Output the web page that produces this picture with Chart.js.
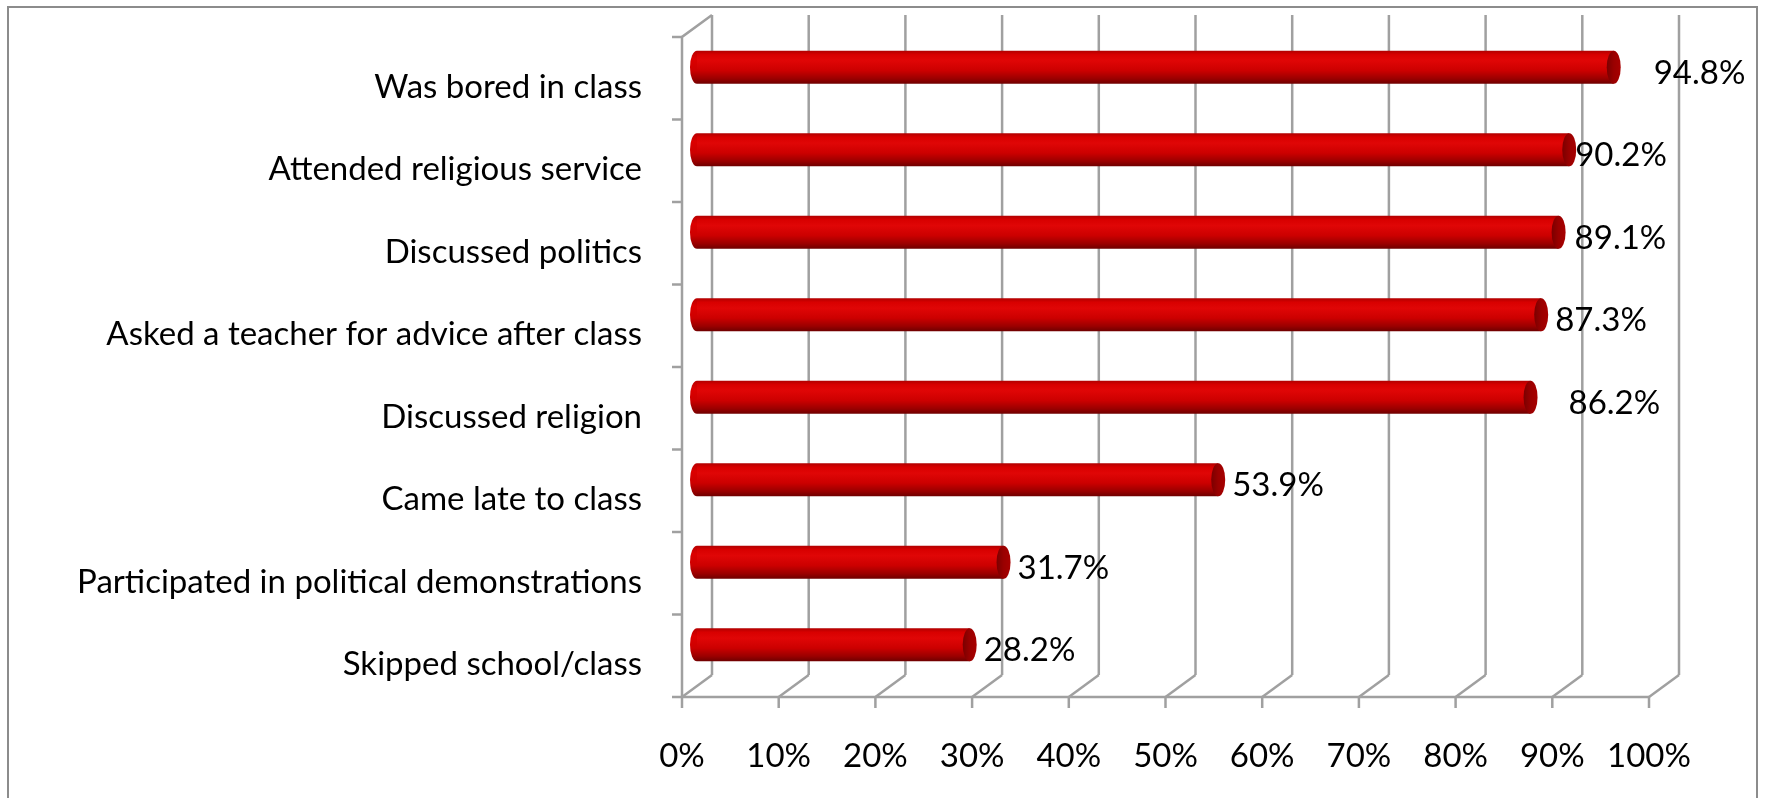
<!DOCTYPE html>
<html>
<head>
<meta charset="utf-8">
<script src="https://cdn.jsdelivr.net/npm/chart.js@4.4.1/dist/chart.umd.min.js"></script>
<style>
  html, body { margin: 0; padding: 0; background: #fff; }
  #wrap { width: 1765px; height: 798px; position: relative; }
</style>
</head>
<body>
<div id="wrap"><canvas id="chart"></canvas></div>
<script>
// datos del grafico
const categorias = [
    "Was bored in class",
    "Attended religious service",
    "Discussed politics",
    "Asked a teacher for advice after class",
    "Discussed religion",
    "Came late to class",
    "Participated in political demonstrations",
    "Skipped school/class"
];
const valores = [94.8, 90.2, 89.1, 87.3, 86.2, 53.9, 31.7, 28.2];
const etiquetas = ["94.8%", "90.2%", "89.1%", "87.3%", "86.2%", "53.9%", "31.7%", "28.2%"];
const ticksX = [0, 10, 20, 30, 40, 50, 60, 70, 80, 90, 100];

// ajuste manual de las etiquetas (como en el original de Excel)
const empujeEtiqueta = [28, -6, 4, 2, 26, 2, 2, 2];

// profundidad 3D
const PROF_X = 30, PROF_Y = -22;
const GRIS = '#a0a0a0';
const FUENTE = "Lato, 'Open Sans', sans-serif";
const TAM = 33;

// ==========================================
// Marco 3D: paredes, piso, ejes
// ==========================================
const marco3D = {
    id: 'marco3D',
    beforeDraw(chart) {
        const ctx = chart.ctx;
        const a = chart.chartArea;
        const x = chart.scales.x;
        const y = chart.scales.y;
        ctx.save();
        ctx.fillStyle = '#fff';
        ctx.fillRect(0, 0, chart.width, chart.height);

        // borde exterior
        ctx.strokeStyle = '#8c8c8c';
        ctx.lineWidth = 2;
        ctx.strokeRect(8, 7, chart.width - 16, chart.height + 20);

        ctx.strokeStyle = GRIS;
        ctx.lineWidth = 2.5;
        ctx.lineCap = 'butt';

        ticksX.forEach(v => {
            const px = x.getPixelForValue(v);
            // linea de fondo
            ctx.beginPath();
            ctx.moveTo(px + PROF_X, a.bottom + PROF_Y);
            ctx.lineTo(px + PROF_X, a.top + PROF_Y);
            ctx.stroke();
            // piso
            ctx.beginPath();
            ctx.moveTo(px, a.bottom);
            ctx.lineTo(px + PROF_X, a.bottom + PROF_Y);
            ctx.stroke();
            // marca del eje
            ctx.beginPath();
            ctx.moveTo(px, a.bottom);
            ctx.lineTo(px, a.bottom + 11);
            ctx.stroke();
        });

        // eje inferior
        ctx.beginPath();
        ctx.moveTo(a.left - 10, a.bottom);
        ctx.lineTo(x.getPixelForValue(100), a.bottom);
        ctx.stroke();

        // pared izquierda
        ctx.beginPath();
        ctx.moveTo(a.left, a.bottom);
        ctx.lineTo(a.left, a.top);
        ctx.lineTo(a.left + PROF_X, a.top + PROF_Y);
        ctx.stroke();

        // marcas del eje vertical (limites de categoria)
        const paso = y.getPixelForValue(1) - y.getPixelForValue(0);
        for (let i = 0; i < categorias.length; i++) {
            const py = y.getPixelForValue(i) - paso / 2;
            ctx.beginPath();
            ctx.moveTo(a.left - 10, py);
            ctx.lineTo(a.left, py);
            ctx.stroke();
        }
        ctx.restore();
    },
    beforeDatasetsDraw(chart) {
        chart.ctx.save();
        chart.ctx.translate(PROF_X / 2, PROF_Y / 2);
    },
    afterDatasetsDraw(chart) {
        const ctx = chart.ctx;
        const meta = chart.getDatasetMeta(0);
        meta.data.forEach(bar => {
            const h = bar.height;
            const top = bar.y - h / 2;
            const rx = 7;
            // tapa izquierda
            const gIzq = ctx.createLinearGradient(0, top, 0, top + h);
            gIzq.addColorStop(0, '#b80000');
            gIzq.addColorStop(0.25, '#dc0000');
            gIzq.addColorStop(0.6, '#cc0000');
            gIzq.addColorStop(1, '#7a0000');
            ctx.fillStyle = gIzq;
            ctx.beginPath();
            ctx.ellipse(bar.base, bar.y, rx, h / 2, 0, Math.PI / 2, Math.PI * 1.5);
            ctx.fill();
            // tapa derecha
            const gDer = ctx.createLinearGradient(bar.x - rx, 0, bar.x + rx, 0);
            gDer.addColorStop(0, '#7a0000');
            gDer.addColorStop(0.5, '#9a0000');
            gDer.addColorStop(1, '#a80000');
            ctx.fillStyle = gDer;
            ctx.beginPath();
            ctx.ellipse(bar.x, bar.y, rx, h / 2, 0, 0, Math.PI * 2);
            ctx.fill();
        });
        ctx.restore();

        // etiquetas de datos
        ctx.save();
        ctx.font = `${TAM}px ${FUENTE}`;
        ctx.fillStyle = '#000';
        ctx.textAlign = 'left';
        ctx.textBaseline = 'middle';
        meta.data.forEach((bar, i) => {
            const lx = bar.x + PROF_X / 2 + 12 + empujeEtiqueta[i];
            const ly = bar.y + PROF_Y / 2 + 6;
            ctx.fillText(etiquetas[i], lx, ly);
        });
        ctx.restore();
    }
};

function gradienteBarra(context) {
    const chart = context.chart;
    const y = chart.scales.y;
    if (!chart.chartArea || !y || context.dataIndex === undefined) return '#d00000';
    const centro = y.getPixelForValue(context.dataIndex);
    const paso = Math.abs(y.getPixelForValue(1) - y.getPixelForValue(0));
    const h = paso * 0.4;
    const top = centro - h / 2;
    if (!Number.isFinite(top) || !Number.isFinite(h)) return '#d00000';
    const g = chart.ctx.createLinearGradient(0, top, 0, top + h);
    g.addColorStop(0, '#b00000');
    g.addColorStop(0.12, '#d80000');
    g.addColorStop(0.3, '#e00606');
    g.addColorStop(0.6, '#cc0000');
    g.addColorStop(0.85, '#9a0000');
    g.addColorStop(1, '#6e0000');
    return g;
}

const ctx = document.getElementById('chart').getContext('2d');
new Chart(ctx, {
    type: 'bar',
    data: {
        labels: categorias,
        datasets: [{
            data: valores,
            backgroundColor: gradienteBarra,
            borderWidth: 0,
            barPercentage: 0.4,
            categoryPercentage: 1
        }]
    },
    options: {
        indexAxis: 'y',
        responsive: true,
        maintainAspectRatio: false,
        animation: false,
        layout: { padding: { top: 37, right: 116, left: 0, bottom: 0 } },
        plugins: { legend: { display: false }, tooltip: { enabled: false } },
        scales: {
            x: {
                min: 0,
                max: 100,
                afterFit: s => { s.height = 101; s.paddingLeft = 0; s.paddingRight = 0; },
                afterBuildTicks: s => { s.ticks = ticksX.map(v => ({ value: v })); },
                grid: { display: false, drawTicks: false },
                border: { display: false },
                ticks: {
                    color: '#000',
                    font: { family: FUENTE, size: TAM },
                    padding: 40,
                    maxRotation: 0,
                    callback: v => v + '%'
                }
            },
            y: {
                afterFit: s => { s.width = 682; s.paddingTop = 0; s.paddingBottom = 0; },
                grid: { display: false, drawTicks: false },
                border: { display: false },
                ticks: {
                    color: '#000',
                    font: { family: FUENTE, size: TAM },
                    padding: 40,
                    labelOffset: 9,
                    autoSkip: false
                }
            }
        }
    },
    plugins: [marco3D]
});
</script>
</body>
</html>
